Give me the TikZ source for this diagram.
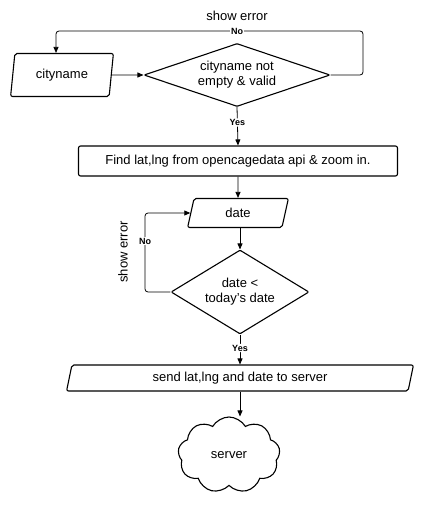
\documentclass[tikz,border=0pt]{standalone}
\usepackage{fontspec}
\setmainfont{Liberation Sans}
\usetikzlibrary{arrows.meta,shapes.geometric,shapes.symbols}

\begin{document}
\begin{tikzpicture}[
    x=1pt, y=-1pt,
    font=\fontsize{13}{15}\selectfont,
    shp/.style={draw, line width=1.1pt, rounded corners=2pt, inner sep=0pt, align=center},
    io/.style={shp, trapezium, trapezium stretches=true,
        trapezium left angle=79, trapezium right angle=101},
    proc/.style={shp, rectangle, minimum width=319pt, minimum height=30pt},
    dec/.style={shp, diamond, rounded corners=1pt},
    lbl/.style={font=\fontsize{9}{10}\selectfont\bfseries, fill=white, inner sep=1pt},
    use/.style={-{Triangle[length=6pt, width=5pt]}, line width=0.8pt, rounded corners=3pt}]
  \useasboundingbox (0,0) rectangle (447,516);

  % ---- city check --------------------------------------------------------
  \node[io, minimum width=103pt, minimum height=43pt] (city) at (62, 75) {cityname};
  \node[dec, aspect=2.95, minimum width=186pt, minimum height=63pt] (chk) at (237, 75) {cityname not\\ empty \& valid};
  \coordinate (errR) at (363, 31);
  \node (err1) at (237, 16) {show error};
  \draw[use] (city.east) -- (chk.west);
  \draw[use] (chk.east) -| (errR) -| ([xshift=-6pt]city.north);
  \node[lbl] (no1) at (237, 31) {No};

  % ---- lookup and date ---------------------------------------------------
  \node[proc] (find) at (238, 161) {Find lat,lng from opencagedata api \& zoom in.};
  \node[io, minimum width=101pt, minimum height=29pt] (date) at (238, 213) {date};
  \node[dec, aspect=1.64, minimum width=138pt, minimum height=84pt] (due) at (240, 292) {date <\\ today's date};
  \draw[use] (chk.south) -- node[lbl, pos=0.4] (yes1) {Yes} (find.north);
  \draw[use] (find.south) -- (date.north);
  \draw[use] (date.south -| due.north) -- (due.north);
  \coordinate (errL) at (145, 250);
  \draw[use] (due.west) -| (errL) |- (date.west);
  \node[lbl] (no2) at (145, 241) {No};
  \node[rotate=90] (err2) at (123, 252) {show error};

  % ---- send to server ----------------------------------------------------
  \node[io, minimum width=347pt, minimum height=26pt,
        trapezium left angle=77, trapezium right angle=103] (send) at (240, 378) {send lat,lng and date to server};
  \node[draw, line width=1.1pt, cloud, cloud puffs=9, cloud puff arc=120, aspect=1.3,
        minimum width=102pt, minimum height=76pt, inner sep=0pt] (srv) at (229, 455) {server};
  \draw[use] (due.south) -- node[lbl, pos=0.45] (yes2) {Yes} (send.north -| due.south);
  \draw[use] (send.south -| due.south) -- (srv.north -| due.south);
\end{tikzpicture}
\end{document}
